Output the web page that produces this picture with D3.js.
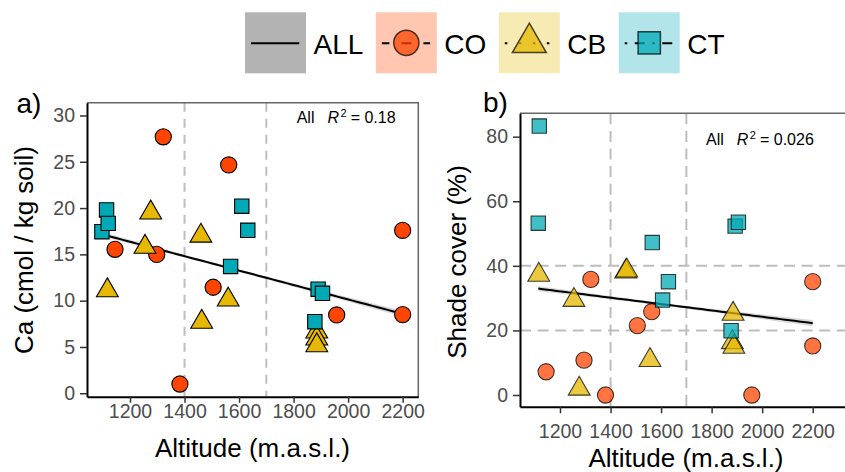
<!DOCTYPE html>
<html>
<head>
<meta charset="utf-8">
<script src="https://cdn.jsdelivr.net/npm/d3@7"></script>
<style>
  body { margin: 0; background: #fff; }
  svg { display: block; font-family: "Liberation Sans", Arial, Helvetica, sans-serif; }
</style>
</head>
<body>
<svg id="chart" width="845" height="472"></svg>
<script>
// ---- groups ----
const groups = ["CO", "CB", "CT"];
const groupColors = ["#FF4500", "#E6B800", "#00A9B5"];
const groupShapes = ["circle", "triangle", "square"];
const legendLabels = ["ALL", "CO", "CB", "CT"];

// ---- panel a: soil calcium (cmol / kg soil) against altitude ----
const caAltCO = [1145, 1298, 1322, 1383, 1505, 1562, 1958, 2200, 2200];
const caCO    = [15.55, 15.0, 27.7, 1.0, 11.45, 24.66, 8.46, 17.6, 8.5];
const caAltCB = [1117, 1255, 1276, 1460, 1463, 1560, 1885, 1885, 1885];
const caCB    = [11.1, 15.8, 19.5, 17.0, 7.7, 10.1, 6.65, 5.9, 5.16];
const caAltCT = [1097, 1114, 1120, 1569, 1610, 1632, 1878, 1890, 1906];
const caCT    = [17.45, 19.8, 18.35, 13.7, 20.2, 17.6, 7.73, 11.24, 10.8];

// ---- panel b: shade cover (%) against altitude ----
const shadeAltCO = [1145, 1295, 1322, 1380, 1506, 1563, 1959, 2200, 2200];
const shadeCO    = [7.2, 10.8, 35.8, 0, 21.5, 25.8, 0, 35.1, 15.2];
const shadeAltCB = [1116, 1255, 1276, 1460, 1464, 1556, 1885, 1882, 1888];
const shadeCB    = [37.2, 29.4, 1.9, 38.2, 38.5, 10.8, 25.1, 16.3, 14.9];
const shadeAltCT = [1118, 1114, 1565, 1606, 1629, 1877, 1893, 1906];
const shadeCT    = [83.3, 53.2, 47.2, 29.4, 35.1, 19.9, 52.3, 53.5];

// ---- axes, reference lines, annotations ----
const altitudeTicks = [1200, 1400, 1600, 1800, 2000, 2200];
const caTicks = [0, 5, 10, 15, 20, 25, 30];
const shadeTicks = [0, 20, 40, 60, 80];
const altitudeBreaks = [1400, 1700];
const shadeBreaks = [20, 40];
const r2Labels = ["0.18", "0.026"];
const panelTags = ["a)", "b)"];
const yTitles = ["Ca (cmol / kg soil)", "Shade cover (%)"];
const xTitle = "Altitude (m.a.s.l.)";
// half-width of the shaded band around each fit at the mean altitude
const bandHalfWidth = [0.15, 0.45];

const svg = d3.select("#chart");
const FONT_TICK = 19.5;

// point glyphs sized from one radius, like plotting symbols 21 / 24 / 22
function shapePath(shape, R) {
  if (shape === "circle") {
    const p = d3.path();
    p.moveTo(R, 0);
    p.arc(0, 0, R, 0, 2 * Math.PI);
    p.closePath();
    return p.toString();
  }
  if (shape === "triangle") {
    const r = 1.5551 * R, xc = 1.3468 * R, yc = 0.7776 * R;
    return `M0,${-r}L${xc},${yc}L${-xc},${yc}Z`;
  }
  const h = 0.8862 * R;
  return `M${-h},${-h}L${h},${-h}L${h},${h}L${-h},${h}Z`;
}

// ordinary least squares fit with leverage term for the band shape
function linearFit(xs, ys) {
  const n = xs.length;
  const mx = d3.mean(xs), my = d3.mean(ys);
  let sxx = 0, sxy = 0;
  xs.forEach((x, i) => { sxx += (x - mx) ** 2; sxy += (x - mx) * (ys[i] - my); });
  const slope = sxy / sxx, intercept = my - slope * mx;
  return {
    mx,
    predict: x => intercept + slope * x,
    leverage: x => Math.sqrt(1 / n + (x - mx) ** 2 / sxx)
  };
}

function drawPanel(cfg) {
  const { box, xDomain, yDomain, yTicks, series, pointStyle, idx } = cfg;
  const x = d3.scaleLinear().domain(xDomain).range([box.left, box.right]);
  const y = d3.scaleLinear().domain(yDomain).range([box.bottom, box.top]);
  const g = svg.append("g");

  const clipId = "clip" + idx;
  svg.append("clipPath").attr("id", clipId)
    .append("rect").attr("x", box.left).attr("y", box.top)
    .attr("width", box.right - box.left).attr("height", box.bottom - box.top);
  const plot = g.append("g").attr("clip-path", `url(#${clipId})`);

  // dashed altitude-zone boundaries
  plot.selectAll("line.vref").data(altitudeBreaks).join("line")
    .attr("x1", d => x(d)).attr("x2", d => x(d))
    .attr("y1", box.top).attr("y2", box.bottom)
    .attr("stroke", "#BDBDBD").attr("stroke-width", 2).attr("stroke-dasharray", cfg.dash);
  if (cfg.hBreaks) {
    plot.selectAll("line.href").data(cfg.hBreaks).join("line")
      .attr("x1", box.left).attr("x2", box.right)
      .attr("y1", d => y(d)).attr("y2", d => y(d))
      .attr("stroke", "#BDBDBD").attr("stroke-width", 2).attr("stroke-dasharray", cfg.dash);
  }

  // fit over all points of the panel
  const allX = series.flatMap(s => s.alt);
  const allY = series.flatMap(s => s.val);
  const fit = linearFit(allX, allY);
  const [x0, x1] = d3.extent(allX);
  const samples = d3.range(0, 61).map(i => x0 + (x1 - x0) * i / 60);
  const base = fit.leverage(fit.mx);
  const hw = xv => bandHalfWidth[idx] * fit.leverage(xv) / base;
  plot.append("path")
    .attr("d", d3.area().x(d => x(d)).y0(d => y(fit.predict(d) - hw(d))).y1(d => y(fit.predict(d) + hw(d)))(samples))
    .attr("fill", "#999").attr("fill-opacity", 0.35);
  plot.append("path")
    .attr("d", d3.line().x(d => x(d)).y(d => y(fit.predict(d)))(samples))
    .attr("fill", "none").attr("stroke", "#000").attr("stroke-width", 2);

  // points
  series.forEach((s, si) => {
    plot.selectAll(null).data(s.alt.map((a, i) => [a, s.val[i]])).join("path")
      .attr("transform", d => `translate(${x(d[0])},${y(d[1])})`)
      .attr("d", shapePath(groupShapes[si], 8.1))
      .attr("fill", groupColors[si]).attr("fill-opacity", pointStyle.alpha)
      .attr("stroke", "#000").attr("stroke-opacity", pointStyle.alpha)
      .attr("stroke-width", 1.1);
  });

  // panel border (top / right) in grey
  g.append("path")
    .attr("d", `M${box.left},${box.top}H${box.right}V${box.bottom}`)
    .attr("fill", "none").attr("stroke", "#666").attr("stroke-width", 1.5);

  // axes
  const xa = g.append("g").attr("transform", `translate(0,${box.bottom})`)
    .call(d3.axisBottom(x).tickValues(altitudeTicks).tickFormat(d3.format("d"))
      .tickSize(cfg.xTick.size).tickPadding(cfg.xTick.pad).tickSizeOuter(0));
  const ya = g.append("g").attr("transform", `translate(${box.left},0)`)
    .call(d3.axisLeft(y).tickValues(yTicks).tickSize(7).tickPadding(cfg.yPad).tickSizeOuter(0));
  [xa, ya].forEach(a => {
    a.select(".domain").attr("stroke", "#000").attr("stroke-width", 2);
    a.selectAll(".tick line").attr("stroke", "#333").attr("stroke-width", 1.5);
    a.selectAll(".tick text").attr("fill", "#4D4D4D")
      .style("font-size", FONT_TICK + "px").style("font-family", "Liberation Sans, Arial, sans-serif");
  });

  // axis titles
  g.append("text").attr("x", cfg.xTitlePos[0]).attr("y", cfg.xTitlePos[1])
    .attr("text-anchor", "middle").style("font-size", "26px").attr("fill", "#000").text(xTitle);
  g.append("text").attr("transform", `translate(${cfg.yTitlePos[0]},${cfg.yTitlePos[1]}) rotate(-90)`)
    .attr("text-anchor", "middle").style("font-size", "26px").attr("fill", "#000").text(yTitles[idx]);

  // panel tag
  g.append("text").attr("x", cfg.tagPos[0]).attr("y", cfg.tagPos[1])
    .style("font-size", "28px").attr("fill", "#000").text(panelTags[idx]);

  // R^2 annotation
  const t = g.append("text").attr("x", cfg.r2Pos[0]).attr("y", cfg.r2Pos[1])
    .style("font-size", "16px").attr("fill", "#000");
  t.append("tspan").text("All");
  t.append("tspan").attr("dx", 13).style("font-style", "italic").text("R");
  t.append("tspan").attr("dx", 1.5).attr("dy", -6).style("font-size", "11px").text("2");
  t.append("tspan").attr("dx", 4).attr("dy", 6).text("= " + r2Labels[idx]);
}

drawPanel({
  idx: 0,
  box: { left: 87, right: 418.3, top: 102.7, bottom: 396.7 },
  xDomain: [1042.3, 2257.4],
  yDomain: [-0.37, 31.38],
  yTicks: caTicks,
  series: [
    { alt: caAltCO, val: caCO },
    { alt: caAltCB, val: caCB },
    { alt: caAltCT, val: caCT }
  ],
  pointStyle: { alpha: 1 },
  dash: "9,7",
  xTick: { size: 6, pad: 1 },
  yPad: 5,
  xTitlePos: [252.5, 456.5],
  yTitlePos: [33, 250],
  tagPos: [16.5, 113.3],
  r2Pos: [296.7, 123.3]
});

drawPanel({
  idx: 1,
  box: { left: 520, right: 852, top: 113.3, bottom: 406.7 },
  xDomain: [1041.7, 2355.5],
  yDomain: [-3.62, 87.24],
  yTicks: shadeTicks,
  hBreaks: shadeBreaks,
  series: [
    { alt: shadeAltCO, val: shadeCO },
    { alt: shadeAltCB, val: shadeCB },
    { alt: shadeAltCT, val: shadeCT }
  ],
  pointStyle: { alpha: 0.75 },
  dash: "11,6.6",
  xTick: { size: 6.6, pad: 10.5 },
  yPad: 5,
  xTitlePos: [686, 466.5],
  yTitlePos: [466, 262],
  tagPos: [483, 112.3],
  r2Pos: [706, 145]
});

// ---- legend: one key per fit / group, each with its line type ----
const legend = svg.append("g");
const keyDash = [null, { arr: "10,12", off: 2.4 }, { arr: "2.5,11.5", off: 0 }, { arr: "2.5,7.5,10,7.5", off: 0 }];
let lx = 245;
const ky = 12.3, ks = 61, kcy = 42.8;
legendLabels.forEach((lab, i) => {
  const k = legend.append("g");
  k.append("rect").attr("x", lx).attr("y", ky).attr("width", ks).attr("height", ks)
    .attr("fill", i === 0 ? "#B3B3B3" : groupColors[i - 1])
    .attr("fill-opacity", i === 0 ? 1 : 0.3);
  const line = k.append("line").attr("x1", lx + 6).attr("x2", lx + 54.3)
    .attr("y1", kcy + 0.5).attr("y2", kcy + 0.5)
    .attr("stroke", "#000").attr("stroke-width", 2);
  if (keyDash[i]) {
    line.attr("stroke-dasharray", keyDash[i].arr).attr("stroke-dashoffset", keyDash[i].off);
    k.append("path").attr("transform", `translate(${lx + ks / 2},${kcy})`)
      .attr("d", shapePath(groupShapes[i - 1], 12.6))
      .attr("fill", groupColors[i - 1]).attr("fill-opacity", 0.75)
      .attr("stroke", "#000").attr("stroke-opacity", 0.7).attr("stroke-width", 1.5);
  }
  const txt = k.append("text").attr("x", lx + ks + 7.5).attr("y", 54.3)
    .style("font-size", "28px").attr("fill", "#000").text(lab);
  lx += ks + 7.5 + txt.node().getComputedTextLength() + 12.5;
});
</script>
</body>
</html>
